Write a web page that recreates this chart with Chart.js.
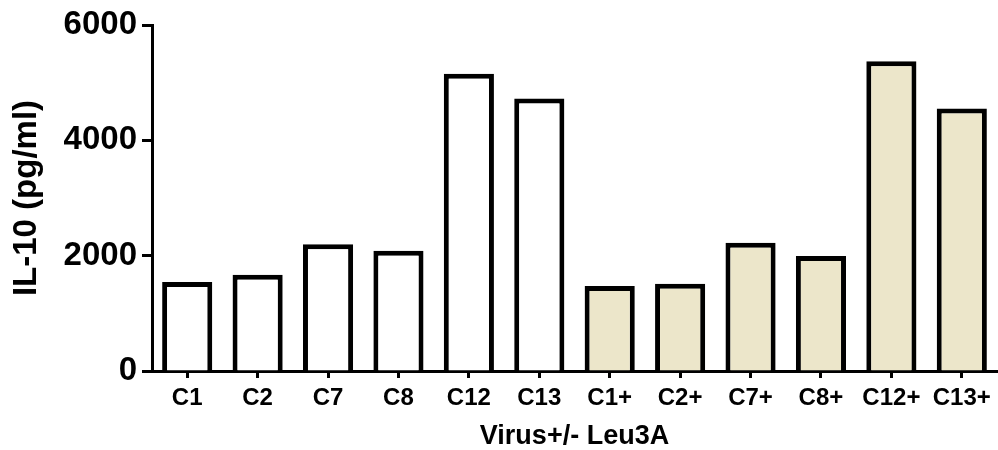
<!DOCTYPE html>
<html>
<head>
<meta charset="utf-8">
<script src="https://cdn.jsdelivr.net/npm/chart.js@4"></script>
<style>
  body { margin: 0; background: #fff; }
</style>
</head>
<body>
<canvas id="il10" width="998" height="450"></canvas>
<script>
// data
var categories = ['C1', 'C2', 'C7', 'C8', 'C12', 'C13', 'C1+', 'C2+', 'C7+', 'C8+', 'C12+', 'C13+'];
var il10Values = [1545, 1670, 2200, 2085, 5155, 4725, 1475, 1515, 2225, 1995, 5370, 4550];
var yTicks = [0, 2000, 4000, 6000];

var beige = '#ece6ca';
var font = "'Liberation Sans', Arial, sans-serif";

window.addEventListener('load', function () {
    var ctx = document.getElementById('il10').getContext('2d');
    new Chart(ctx, {
        type: 'bar',
        data: {
            labels: categories,
            datasets: [
                {
                    label: 'IL-10',
                    data: il10Values,
                    backgroundColor: function (c) {
                        return categories[c.dataIndex].slice(-1) === '+' ? beige : '#ffffff';
                    },
                    borderColor: '#000',
                    borderWidth: 5,
                    borderSkipped: 'bottom',
                    barPercentage: 0.8,
                    categoryPercentage: 0.89
                }
            ]
        },
        options: {
            responsive: false,
            animation: false,
            layout: { padding: { top: 25, right: 1, left: 0, bottom: 0 } },
            plugins: {
                legend: { display: false },
                tooltip: { enabled: false }
            },
            scales: {
                x: {
                    grid: {
                        display: true,
                        drawOnChartArea: false,
                        offset: false,
                        tickLength: 7,
                        tickWidth: 3,
                        tickColor: '#000'
                    },
                    border: { display: true, color: '#000', width: 3 },
                    ticks: {
                        color: '#000',
                        font: { family: font, size: 24, weight: 'bold' },
                        padding: 6,
                        maxRotation: 0,
                        autoSkip: false
                    },
                    title: {
                        display: true,
                        text: 'Virus+/- Leu3A',
                        color: '#000',
                        font: { family: font, size: 27, weight: 'bold', lineHeight: 1 },
                        padding: { top: 0, bottom: 0 }
                    },
                    afterFit: function (s) { s.height = 79; }
                },
                y: {
                    min: 0,
                    max: 6000,
                    afterBuildTicks: function (s) {
                        s.ticks = yTicks.map(function (v) { return { value: v }; });
                    },
                    grid: {
                        display: true,
                        drawOnChartArea: false,
                        tickLength: 10,
                        tickWidth: 3,
                        tickColor: '#000'
                    },
                    border: { display: true, color: '#000', width: 3 },
                    ticks: {
                        color: '#000',
                        font: { family: font, size: 33, weight: 'bold' },
                        padding: 5,
                        callback: function (v) { return String(v); }
                    },
                    title: {
                        display: true,
                        text: 'IL-10 (pg/ml)',
                        color: '#000',
                        font: { family: font, size: 33, weight: 'bold' },
                        padding: { top: 7, bottom: 0 }
                    },
                    afterFit: function (s) { s.width = 152; }
                }
            }
        }
    });
});
</script>
</body>
</html>
